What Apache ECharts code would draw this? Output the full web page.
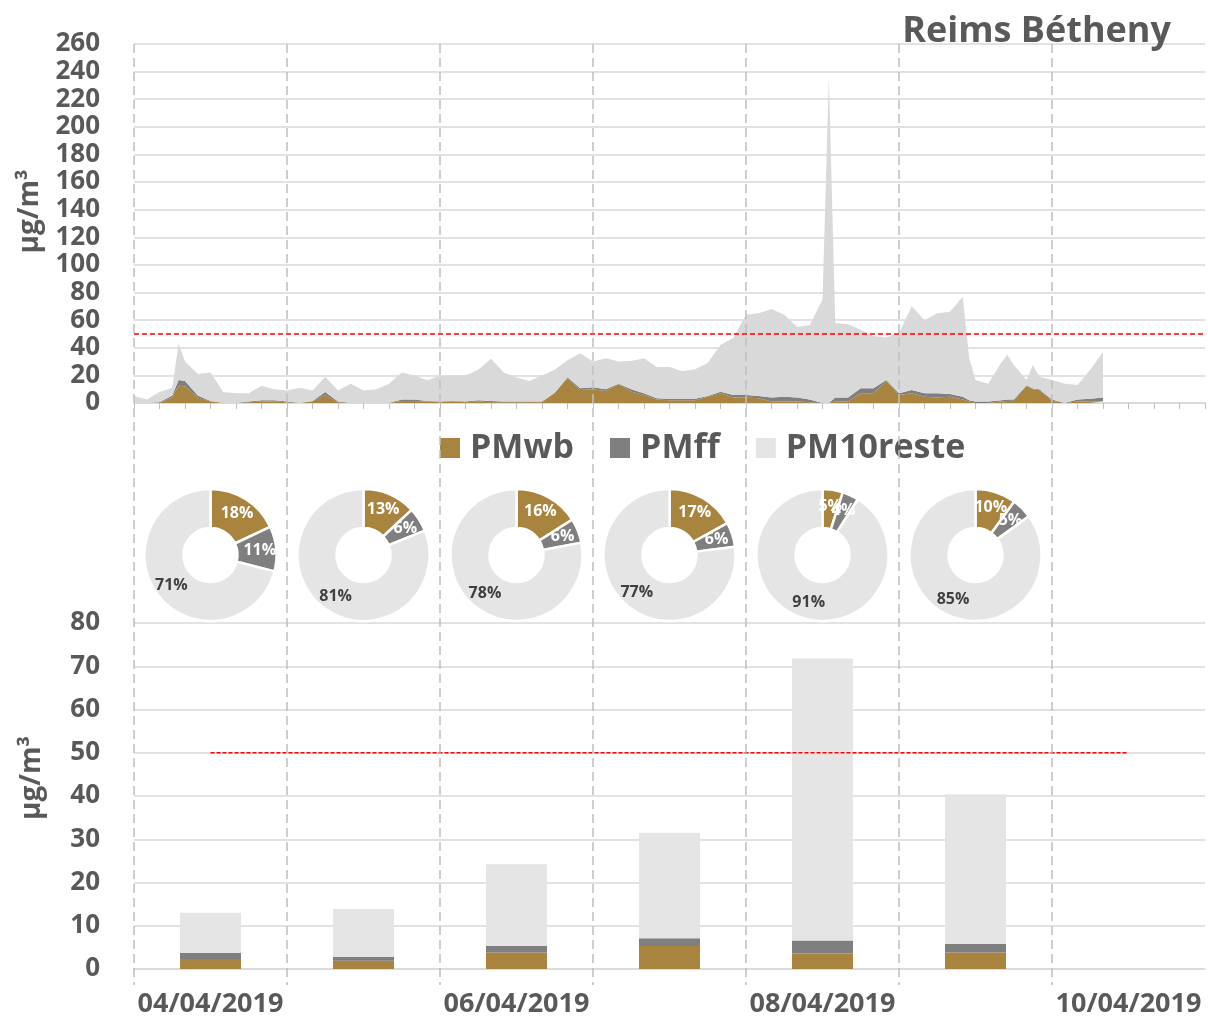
<!DOCTYPE html>
<html>
<head>
<meta charset="utf-8">
<script src="https://cdn.jsdelivr.net/npm/echarts@6/dist/echarts.min.js"></script>
<style>
  html, body { margin: 0; padding: 0; background: #fff; }
  #main { width: 1208px; height: 1021px; }
</style>
</head>
<body>
<div id="main"></div>
<script>
// heures depuis le 04/04/2019 00h
var hours = [0, 2, 4, 6, 7, 8, 10, 12, 14, 16, 18, 20, 22, 24, 26, 28, 30, 32, 34, 36, 38, 40,
  42, 44, 46, 48, 50, 52, 54, 56, 58, 60, 62, 64, 66, 68, 70, 72, 74, 76, 78, 80, 82, 84, 86, 88,
  90, 92, 94, 96, 98, 100, 102, 104, 106, 108, 109, 110, 112, 114, 116, 118, 120, 122, 124, 126,
  128, 130, 131, 132, 134, 136, 137, 138, 140, 141, 142, 144, 146, 148, 150, 152];
// PM10 total (haut de la zone grise claire)
var pm10Total = [5, 2.5, 8, 11, 43, 30, 21, 22, 8, 7, 7, 12.5, 10, 9, 11, 9, 19, 9, 14, 9, 10, 14,
  22, 20, 16.5, 20, 20, 20, 24, 32, 22, 18.5, 16, 20, 24, 31, 36, 30, 32.5, 30, 30.5, 32.5, 26, 26, 23, 24.5,
  29, 42, 47, 64, 65, 68, 64, 55, 56.5, 75, 236, 58, 57, 53, 48.5, 47.5, 50.5, 70, 60, 65,
  66, 77, 33, 16.6, 14, 29, 35, 27.5, 16.6, 27.5, 19, 16.6, 14, 13, 24, 37];
var pmWb = [0, 0, 0, 4, 12.7, 12, 4, 1, 0, 0, 0.5, 1, 1, 0.5, 0, 1, 6, 0.5, 0, 0, 0, 0,
  1.5, 1.5, 1, 0.5, 1, 0.5, 1, 0.5, 0.5, 0.5, 0.5, 0.5, 7.5, 18, 9.4, 10, 8.7, 13.5, 8.2, 6, 2.6, 2, 2, 2,
  4.5, 7, 4, 4, 3.4, 1, 1, 1, 0.5, 0, 0, 1, 1, 7, 7, 16, 5.8, 7, 4.6, 4,
  4.6, 2.6, 1, 0, 0, 1, 1.5, 1.7, 12.3, 10, 9.4, 1.7, 0, 1, 1.2, 1.2];
var pmFf = [0, 0, 0.5, 1.5, 4, 4, 1.5, 0.5, 0, 0, 0.5, 1, 1, 0.5, 0, 0.5, 2, 0.5, 0, 0, 0, 0,
  1, 1, 0.5, 0.5, 0.5, 0.5, 1, 1, 0.5, 0.5, 0.5, 0.5, 0, 0.6, 1.2, 1.4, 1.3, 0.5, 1.8, 1, 0.8, 1, 1, 1,
  0.5, 1.2, 1.8, 1.8, 1.6, 3, 3.6, 3, 2.1, 0, 0, 3, 3, 3.6, 3.6, 0.6, 1.2, 2.4, 2.4, 3,
  1.9, 2, 1, 1, 1, 1, 1, 0.9, 0.5, 0.5, 0.6, 0.9, 0, 1.6, 1.8, 2.8];

// moyennes journalieres
var days = ['04/04/2019', '05/04/2019', '06/04/2019', '07/04/2019', '08/04/2019', '09/04/2019', '10/04/2019'];
var dayWb = [2.3, 1.9, 3.8, 5.3, 3.6, 3.8];
var dayFf = [1.4, 0.9, 1.5, 1.8, 3.0, 2.0];
var dayReste = [9.3, 11.1, 18.9, 24.4, 65.2, 34.6];

// parts (%) des camemberts
var pieWb = [18, 13, 16, 17, 5, 10];
var pieFf = [11, 6, 6, 6, 4, 5];
var pieReste = [71, 81, 78, 77, 91, 85];

var limitValue = 50;
var topTicks = [0, 20, 40, 60, 80, 100, 120, 140, 160, 180, 200, 220, 240, 260];
var barTicks = [0, 10, 20, 30, 40, 50, 60, 70, 80];

var FONT = '"Open Sans", "Liberation Sans", sans-serif';
var TXT = '#595959';
var C_WB = '#A9843F', C_FF = '#7F7F7F', C_RESTE = '#D9D9D9', C_RESTE2 = '#E5E5E5';
var HOUR = 3600 * 1000;
var t0 = new Date(2019, 3, 4).getTime();

var chart = echarts.init(document.getElementById('main'), null, { renderer: 'canvas' });

function pairs(vals) {
  return hours.map(function (h, i) { return [t0 + h * HOUR, vals[i]]; });
}
var resteTop = pm10Total.map(function (t, i) { return Math.max(0, t - pmWb[i] - pmFf[i]); });

function areaSeries(name, vals, color, legendColor) {
  return {
    name: name,
    type: 'line',
    xAxisIndex: 0,
    yAxisIndex: 0,
    stack: 'pm',
    symbol: 'none',
    smooth: false,
    lineStyle: { width: 0 },
    itemStyle: { color: legendColor || color },
    areaStyle: { color: color, opacity: 1 },
    emphasis: { disabled: true },
    data: pairs(vals)
  };
}

var series = [
  areaSeries('PMwb', pmWb, C_WB),
  areaSeries('PMff', pmFf, C_FF),
  areaSeries('PM10reste', resteTop, C_RESTE, C_RESTE2),
  {
    name: 'seuil',
    type: 'line',
    xAxisIndex: 0,
    yAxisIndex: 0,
    data: [],
    markLine: {
      silent: true,
      symbol: 'none',
      label: { show: false },
      lineStyle: { color: '#FF0000', type: [5, 3], width: 1.5 },
      data: [{ yAxis: limitValue }]
    }
  },
  {
    name: 'PMwb', type: 'bar', xAxisIndex: 1, yAxisIndex: 1, stack: 'jour', barWidth: 61,
    itemStyle: { color: C_WB }, data: dayWb
  },
  {
    name: 'PMff', type: 'bar', xAxisIndex: 1, yAxisIndex: 1, stack: 'jour', barWidth: 61,
    itemStyle: { color: C_FF }, data: dayFf
  },
  {
    name: 'PM10reste', type: 'bar', xAxisIndex: 1, yAxisIndex: 1, stack: 'jour', barWidth: 61,
    itemStyle: { color: C_RESTE2 }, data: dayReste
  },
  {
    name: 'seuil jour', type: 'line', xAxisIndex: 1, yAxisIndex: 1, symbol: 'none',
    lineStyle: { color: '#FF0000', type: [4, 2], width: 1.5 },
    z: 5,
    data: days.map(function () { return limitValue; })
  }
];

var yLabel = function (size) {
  return {
    fontFamily: FONT, fontWeight: 'bold', fontSize: size, color: TXT, margin: 34,
    showMinLabel: true, showMaxLabel: true, hideOverlap: false
  };
};
var yName = function (shift) {
  return { fontFamily: FONT, fontWeight: 'bold', fontSize: 28, color: TXT, padding: [0, 0, 0, shift] };
};

var option = {
  animation: false,
  backgroundColor: '#fff',
  title: {
    text: 'Reims Bétheny',
    right: 32,
    top: 9,
    textStyle: { fontFamily: FONT, fontWeight: 'bold', fontSize: 36, color: TXT }
  },
  legend: {
    data: ['PMwb', 'PMff', 'PM10reste'],
    left: 435,
    top: 426,
    icon: 'rect',
    itemWidth: 20,
    itemHeight: 20,
    itemGap: 36,
    selectedMode: false,
    textStyle: { fontFamily: FONT, fontWeight: 'bold', fontSize: 34, color: TXT, padding: [0, 0, 0, 5] }
  },
  grid: [
    { left: 134, right: 3, top: 44, height: 359 },
    { left: 134, right: 3, top: 623, height: 346 },
    { left: 134, right: 3, top: 44, height: 941 }
  ],
  xAxis: [
    {
      type: 'time', gridIndex: 0, min: t0, max: t0 + 168 * HOUR,
      minInterval: 6 * HOUR, maxInterval: 6 * HOUR,
      axisLine: { show: true, lineStyle: { color: '#D9D9D9', width: 1.5 } },
      axisTick: { show: true, length: 6, lineStyle: { color: '#BFBFBF' } },
      axisLabel: { show: false },
      splitLine: { show: false }
    },
    {
      type: 'category', gridIndex: 1, data: days, boundaryGap: true,
      axisLine: { show: true, lineStyle: { color: '#D9D9D9', width: 1.5 } },
      axisTick: { show: false },
      axisLabel: { interval: 1, fontFamily: FONT, fontWeight: 'bold', fontSize: 27, color: TXT, margin: 22 },
      splitLine: { show: false }
    },
    {
      type: 'value', gridIndex: 2, min: 0, max: 168, interval: 24, z: 10,
      axisLine: { show: false }, axisTick: { show: false }, axisLabel: { show: false },
      splitLine: { show: true, showMaxLine: false, lineStyle: { color: '#BFBFBF', type: [9, 5], width: 1.5 } }
    }
  ],
  yAxis: [
    {
      type: 'value', gridIndex: 0, min: topTicks[0], max: topTicks[topTicks.length - 1], interval: 20,
      name: 'µg/m³', nameLocation: 'middle', nameGap: 88, nameTextStyle: yName(24),
      axisLine: { show: false }, axisTick: { show: false },
      axisLabel: yLabel(26),
      splitLine: { show: true, lineStyle: { color: '#D9D9D9', width: 1.5 } }
    },
    {
      type: 'value', gridIndex: 1, min: barTicks[0], max: barTicks[barTicks.length - 1], interval: 10,
      name: 'µg/m³', nameLocation: 'middle', nameGap: 88, nameTextStyle: yName(36),
      axisLine: { show: false }, axisTick: { show: false },
      axisLabel: yLabel(26),
      splitLine: { show: true, lineStyle: { color: '#D9D9D9', width: 1.5 } }
    },
    {
      type: 'value', gridIndex: 2, min: 0, max: 1, show: false
    }
  ],
  series: series
};

chart.setOption(option);

// camemberts centres sur chaque jour de l'axe du bas
var pies = pieWb.map(function (wb, i) {
  var cx = chart.convertToPixel({ xAxisIndex: 1 }, i);
  var white = { color: '#fff', fontFamily: FONT, fontWeight: 'bold', fontSize: 16 };
  return {
    id: 'pie' + i,
    type: 'pie',
    center: [cx, 555],
    radius: [27, 66],
    startAngle: 90,
    clockwise: true,
    silent: true,
    avoidLabelOverlap: false,
    labelLayout: { hideOverlap: false },
    itemStyle: { borderColor: '#fff', borderWidth: 2.5 },
    label: {
      show: true,
      position: 'inside',
      formatter: function (p) { return p.value + '%'; }
    },
    labelLine: { show: false },
    data: [
      { name: 'PMwb', value: wb, itemStyle: { color: C_WB }, label: white },
      { name: 'PMff', value: pieFf[i], itemStyle: { color: C_FF }, label: white },
      {
        name: 'PM10reste', value: pieReste[i], itemStyle: { color: C_RESTE2 },
        label: { color: '#404040', fontFamily: FONT, fontWeight: 'bold', fontSize: 16 }
      }
    ]
  };
});

chart.setOption({ series: series.concat(pies) });
</script>
</body>
</html>
